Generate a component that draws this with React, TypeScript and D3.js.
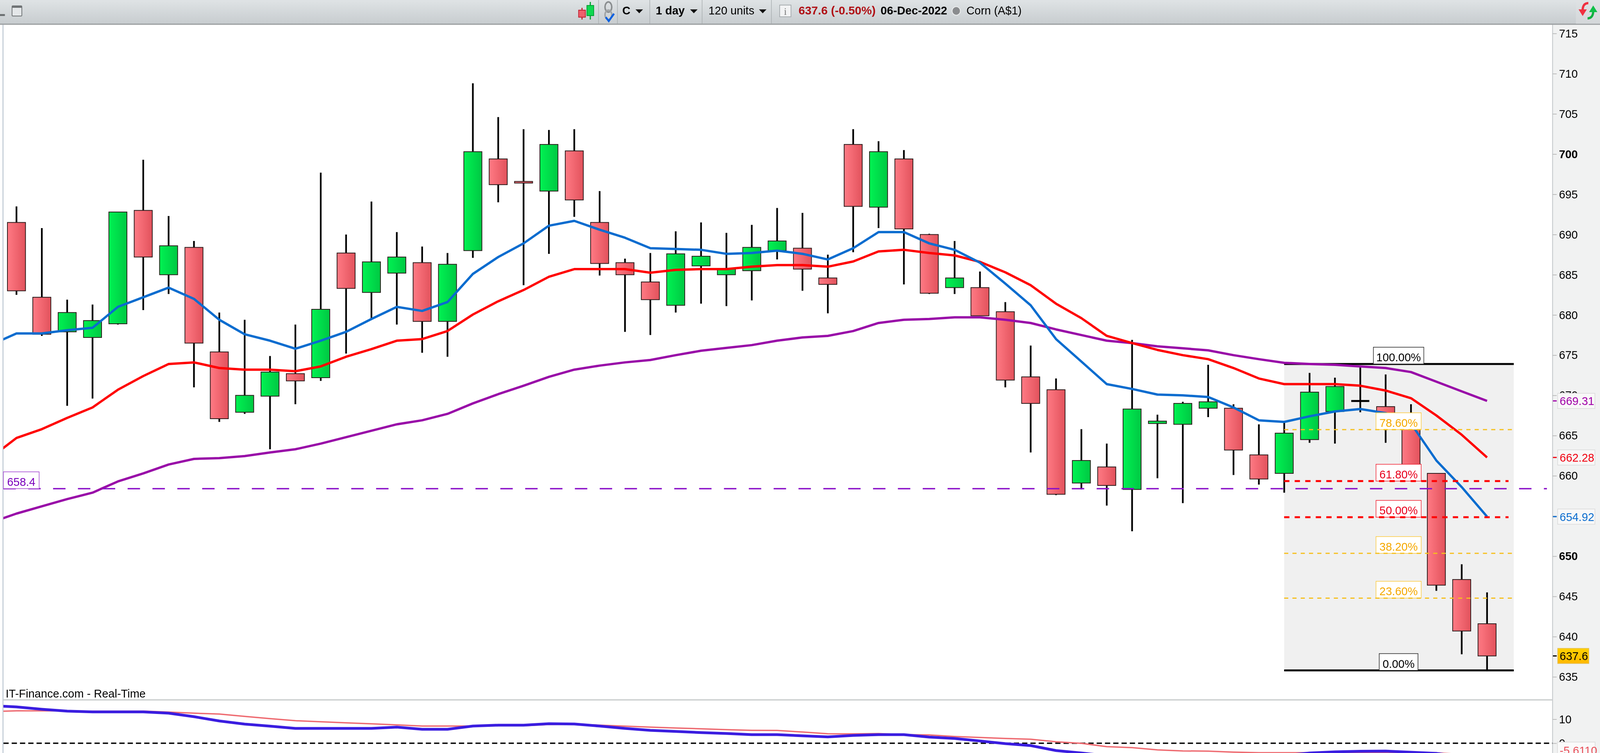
// App.tsx - Corn daily candlesticks with moving averages, fibonacci retracement and MACD strip
import { useRef, useEffect } from "react";
import * as d3 from "d3";

const WIDTH = 4250;
const HEIGHT = 1928;
const FONT = "'Liberation Sans', Arial, sans-serif";

// Candles
const OPENS = [691.5, 682.2, 677.9, 677.2, 678.9, 693.0, 685.0, 688.4, 675.4, 667.9, 669.9, 672.7, 672.2, 687.7, 682.8, 685.2, 686.5, 679.2, 688.0, 699.4, 696.6, 695.4, 700.4, 691.5, 686.5, 684.1, 681.2, 686.1, 685.0, 685.5, 688.0, 688.3, 684.6, 701.2, 693.4, 699.4, 690.0, 683.4, 683.4, 680.4, 672.3, 670.7, 659.1, 661.1, 658.3, 666.5, 666.4, 668.4, 668.4, 662.6, 660.3, 664.5, 668.0, 669.3, 668.6, 667.7, 660.3, 647.1, 641.6];
const CLOSES = [683.0, 677.6, 680.3, 679.3, 692.8, 687.2, 688.6, 676.5, 667.1, 670.0, 672.9, 671.8, 680.7, 683.3, 686.6, 687.2, 679.2, 686.3, 700.3, 696.2, 696.4, 701.2, 694.3, 686.4, 685.0, 681.9, 687.6, 687.3, 685.7, 688.4, 689.2, 685.7, 683.8, 693.5, 700.3, 690.7, 682.7, 684.6, 679.9, 671.9, 669.0, 657.7, 661.9, 658.8, 668.3, 666.8, 669.0, 669.2, 663.2, 659.6, 665.3, 670.4, 671.1, 669.3, 666.3, 659.9, 646.4, 640.7, 637.6];
const HIGHS = [693.5, 690.8, 681.9, 681.3, 692.8, 699.3, 692.3, 689.2, 680.3, 679.4, 674.9, 678.8, 697.7, 690.0, 694.1, 690.3, 688.5, 687.7, 708.8, 704.6, 703.1, 703.0, 703.1, 695.4, 687.0, 687.7, 690.4, 691.5, 690.2, 691.2, 693.3, 692.7, 687.5, 703.1, 701.6, 700.5, 690.1, 689.2, 685.4, 681.6, 676.2, 672.1, 665.8, 664.0, 676.9, 667.6, 669.2, 673.8, 668.9, 666.4, 666.6, 672.8, 672.2, 673.6, 672.6, 668.9, 660.3, 649.0, 645.5];
const LOWS = [682.5, 677.4, 668.7, 669.6, 678.8, 680.6, 682.6, 671.0, 666.7, 667.7, 663.3, 668.9, 671.8, 675.2, 679.5, 678.8, 675.3, 674.8, 687.1, 694.0, 683.7, 687.6, 692.2, 684.9, 677.9, 677.5, 680.3, 681.4, 681.1, 681.8, 686.9, 683.0, 680.2, 687.8, 690.8, 683.8, 682.6, 682.6, 679.9, 671.0, 662.9, 657.6, 658.3, 656.3, 653.1, 659.7, 656.6, 667.3, 660.1, 658.9, 657.9, 664.1, 664.0, 667.9, 664.1, 659.4, 645.7, 637.8, 635.8];

// Moving averages: first value belongs to the candle just off the left edge
const MA_BLUE = [676.3, 677.7, 677.7, 678.1, 678.4, 681.0, 682.2, 683.4, 682.0, 679.4, 677.6, 676.8, 675.8, 676.8, 677.9, 679.5, 681.0, 680.5, 681.6, 685.1, 687.2, 688.9, 691.1, 691.7, 690.6, 689.6, 688.3, 688.2, 688.1, 687.6, 687.7, 688.0, 687.6, 686.9, 688.3, 690.3, 690.3, 688.9, 688.1, 686.5, 683.9, 681.2, 677.0, 674.2, 671.4, 670.8, 670.1, 670.0, 669.8, 668.5, 666.9, 666.7, 667.4, 668.0, 668.3, 667.8, 666.5, 661.9, 658.6, 654.92];
const MA_RED = [662.3, 664.7, 665.8, 667.2, 668.5, 670.7, 672.4, 673.9, 674.1, 673.4, 673.2, 673.2, 673.0, 673.6, 674.8, 675.75, 676.8, 677.0, 678.0, 680.05, 681.7, 683.1, 684.75, 685.7, 685.7, 685.7, 685.25, 685.6, 685.7, 685.7, 686.0, 686.2, 686.2, 686.0, 686.65, 687.9, 688.1, 687.7, 687.4, 686.6, 685.3, 683.7, 681.4, 679.6, 677.4, 676.5, 675.65, 675.0, 674.5, 673.4, 672.1, 671.4, 671.4, 671.4, 671.2, 670.6, 669.65, 667.5, 665.1, 662.28];
const MA_PURPLE = [654.2, 655.3, 656.2, 657.1, 657.9, 659.3, 660.3, 661.4, 662.1, 662.2, 662.45, 662.9, 663.3, 664.0, 664.8, 665.6, 666.4, 666.9, 667.7, 669.0, 670.15, 671.2, 672.3, 673.2, 673.7, 674.1, 674.4, 675.0, 675.55, 675.9, 676.25, 676.8, 677.2, 677.4, 678.0, 679.0, 679.4, 679.5, 679.7, 679.7, 679.4, 679.0, 678.2, 677.5, 676.8, 676.5, 676.1, 675.85, 675.6, 675.0, 674.5, 674.05, 673.9, 673.8, 673.6, 673.4, 672.9, 671.7, 670.5, 669.31];

// Lower panel
const MACD = [15.7, 15.12, 14.15, 13.38, 13.06, 13.06, 13.06, 12.52, 11.06, 9.27, 7.97, 7.1, 6.18, 6.18, 6.18, 6.18, 6.72, 5.8, 5.8, 7.15, 7.53, 7.53, 8.13, 8.02, 7.15, 6.18, 5.37, 4.93, 4.44, 4.07, 3.58, 3.58, 3.09, 2.65, 3.25, 3.58, 3.58, 2.55, 2.0, 0.93, -0.16, -0.98, -3.04, -4.07, -5.2, -6.0, -6.6, -6.9, -6.9, -6.5, -5.9, -5.1, -4.07, -3.58, -3.33, -3.25, -3.74, -4.23, -5.6, -7.5];
const SIGNAL = [13.2, 13.5, 13.5, 13.5, 13.33, 13.33, 13.38, 12.96, 12.52, 12.15, 11.17, 10.24, 9.38, 8.94, 8.5, 8.08, 7.64, 7.15, 7.15, 7.15, 7.27, 7.27, 7.8, 7.92, 7.53, 7.1, 6.72, 6.34, 6.02, 5.64, 5.37, 5.32, 4.67, 3.95, 3.9, 4.02, 3.58, 3.46, 2.81, 2.39, 2.0, 1.67, 0.6, -0.05, -1.41, -1.84, -2.76, -3.2, -3.3, -3.69, -3.95, -3.95, -3.95, -3.95, -3.95, -3.95, -3.95, -4.0, -4.6, -5.61];

const PRICE_TICKS = [715, 710, 705, 700, 695, 690, 685, 680, 675, 670, 665, 660, 655, 650, 645, 640, 635];
const BOLD_TICKS = [700, 650];
const LOWER_TICKS = [10, 0];

// Fibonacci retracement
const FIB_LOW = 635.8;
const FIB_HIGH = 673.9;
const FIB_PCTS = [1, 0.786, 0.618, 0.5, 0.382, 0.236, 0];
const FIB_LABELS = ["100.00%", "78.60%", "61.80%", "50.00%", "38.20%", "23.60%", "0.00%"];
const HORIZONTAL_LEVEL = 658.4;

const C_BLUE = "#0a6ccf";
const C_RED = "#ff0000";
const C_PURPLE = "#990ca8";
const C_YELLOW = "#f6bf1c";

export default function App() {
  const svgRef = useRef<SVGSVGElement>(null);

  useEffect(() => {
    if (!svgRef.current) return;
    const svg = d3.select(svgRef.current);
    svg.selectAll("*").remove();

    const axisX = 4124;
    const toolbarH = 62;
    const sepY = 1792;

    const x = d3.scaleLinear().domain([0, 58]).range([43.75, 3950]);
    const y = d3.scaleLinear().domain([715, 635]).range([85.7, 1733]);
    const yLower = d3.scaleLinear().domain([10, 0]).range([1841.5, 1903]);

    const defs = svg.append("defs");
    const grad = (id: string, c0: string, c1: string) => {
      const g = defs.append("linearGradient").attr("id", id);
      g.append("stop").attr("offset", "0%").attr("stop-color", c0);
      g.append("stop").attr("offset", "100%").attr("stop-color", c1);
    };
    grad("bodyRed", "#ff7a84", "#e2525c");
    grad("bodyGreen", "#00f252", "#00c843");
    const tb = defs.append("linearGradient").attr("id", "toolbar").attr("x2", 0).attr("y2", 1);
    tb.append("stop").attr("offset", "0%").attr("stop-color", "#dfe3e5");
    tb.append("stop").attr("offset", "100%").attr("stop-color", "#c7cccf");
    const gold = defs.append("linearGradient").attr("id", "gold").attr("x2", 0).attr("y2", 1);
    gold.append("stop").attr("offset", "0%").attr("stop-color", "#ffd000");
    gold.append("stop").attr("offset", "100%").attr("stop-color", "#ffb800");
    defs.append("clipPath").attr("id", "mainClip").append("rect")
      .attr("x", 9).attr("y", toolbarH).attr("width", axisX - 9).attr("height", sepY - toolbarH);
    defs.append("clipPath").attr("id", "lowerClip").append("rect")
      .attr("x", 9).attr("y", sepY).attr("width", axisX - 9).attr("height", HEIGHT - sepY);

    svg.append("rect").attr("width", WIDTH).attr("height", HEIGHT).attr("fill", "#ffffff");

    // Right axis strip and left edge
    svg.append("rect").attr("x", axisX).attr("y", toolbarH).attr("width", WIDTH - axisX).attr("height", HEIGHT - toolbarH).attr("fill", "#f1f2f2");
    svg.append("line").attr("x1", axisX).attr("x2", axisX).attr("y1", toolbarH).attr("y2", HEIGHT).attr("stroke", "#bfc4c6").attr("stroke-width", 2);
    svg.append("line").attr("x1", 8).attr("x2", 8).attr("y1", toolbarH).attr("y2", HEIGHT).attr("stroke", "#c5ced8").attr("stroke-width", 3);
    svg.append("line").attr("x1", 9).attr("x2", axisX).attr("y1", sepY).attr("y2", sepY).attr("stroke", "#c6caca").attr("stroke-width", 3);

    // Fibonacci background
    const fibX0 = 3411;
    const fibX1 = 4021;
    const fibPrice = (p: number) => FIB_LOW + p * (FIB_HIGH - FIB_LOW);
    svg.append("rect").attr("x", fibX0).attr("width", fibX1 - fibX0)
      .attr("y", y(FIB_HIGH)).attr("height", y(FIB_LOW) - y(FIB_HIGH)).attr("fill", "#f0f0f0");

    // Solid fib limits sit under the averages
    [0, 1].forEach((p) => {
      svg.append("line").attr("x1", fibX0).attr("x2", fibX1).attr("y1", y(fibPrice(p))).attr("y2", y(fibPrice(p)))
        .attr("stroke", "#000").attr("stroke-width", 5);
    });

    // Candles
    const candles = svg.append("g").attr("clip-path", "url(#mainClip)");
    const bodyW = 48;
    OPENS.forEach((open, i) => {
      const close = CLOSES[i];
      candles.append("line").attr("x1", x(i)).attr("x2", x(i)).attr("y1", y(HIGHS[i])).attr("y2", y(LOWS[i]))
        .attr("stroke", "#000").attr("stroke-width", 4.5);
      const top = y(Math.max(open, close));
      const h = Math.abs(y(open) - y(close));
      if (open === close) {
        candles.append("rect").attr("x", x(i) - bodyW / 2).attr("width", bodyW).attr("y", top - 2.5).attr("height", 5).attr("fill", "#000");
        return;
      }
      candles.append("rect").attr("x", x(i) - bodyW / 2).attr("width", bodyW).attr("y", top).attr("height", h)
        .attr("fill", close > open ? "url(#bodyGreen)" : "url(#bodyRed)")
        .attr("stroke", "#2a1a1a").attr("stroke-width", 2);
    });

    // Moving averages
    const maLine = d3.line<number>().x((_, i) => x(i - 1)).y((d) => y(d)).curve(d3.curveLinear);
    const mas = svg.append("g").attr("clip-path", "url(#mainClip)");
    ([[MA_PURPLE, C_PURPLE], [MA_RED, C_RED], [MA_BLUE, C_BLUE]] as [number[], string][]).forEach(([vals, color]) => {
      mas.append("path").attr("d", maLine(vals)).attr("fill", "none").attr("stroke", color)
        .attr("stroke-width", 6).attr("stroke-linejoin", "round");
    });

    // Purple horizontal level
    svg.append("line").attr("x1", 9).attr("x2", 4109).attr("y1", y(HORIZONTAL_LEVEL)).attr("y2", y(HORIZONTAL_LEVEL))
      .attr("stroke", "#8a10c8").attr("stroke-width", 3.5).attr("stroke-dasharray", "33,33");
    svg.append("rect").attr("x", 9).attr("width", 95).attr("y", y(HORIZONTAL_LEVEL) - 43).attr("height", 43)
      .attr("fill", "#fff").attr("stroke", "#a040d0").attr("stroke-width", 1.5);
    svg.append("text").attr("x", 56.5).attr("y", y(HORIZONTAL_LEVEL) - 7).attr("text-anchor", "middle")
      .style("font", `30px ${FONT}`).style("fill", "#7a00bc").text(String(HORIZONTAL_LEVEL));

    // Fib labels and dashed retracements
    const fibStyle = (p: number) =>
      p === 1 || p === 0
        ? { box: "#222", text: "#000" }
        : p === 0.618 || p === 0.5
          ? { box: "#f02030", text: "#e8001c" }
          : { box: "#fbc93c", text: "#f5a800" };
    const labelCx = 3715;
    FIB_PCTS.forEach((p, i) => {
      const ly = y(fibPrice(p));
      const st = fibStyle(p);
      const w = p === 1 ? 134 : p === 0 ? 103 : 120;
      svg.append("rect").attr("x", labelCx - w / 2).attr("width", w).attr("y", ly - 43).attr("height", 43)
        .attr("fill", "#fff").attr("stroke", st.box).attr("stroke-width", 1.5);
      svg.append("text").attr("x", labelCx).attr("y", ly - 7).attr("text-anchor", "middle")
        .style("font", `30px ${FONT}`).style("fill", st.text).text(FIB_LABELS[i]);
    });
    FIB_PCTS.filter((p) => p !== 0 && p !== 1).forEach((p) => {
      const ly = y(fibPrice(p));
      const strong = p === 0.618 || p === 0.5;
      svg.append("line").attr("x1", fibX0).attr("x2", strong ? 4007 : fibX1).attr("y1", ly).attr("y2", ly)
        .attr("stroke", strong ? C_RED : C_YELLOW).attr("stroke-width", strong ? 5 : 3)
        .attr("stroke-dasharray", strong ? "14,14" : "11,11");
    });

    svg.append("text").attr("x", 15).attr("y", 1786).style("font", `30px ${FONT}`).style("fill", "#000")
      .attr("textLength", 372).attr("lengthAdjust", "spacingAndGlyphs").text("IT-Finance.com - Real-Time");

    // Price axis
    const priceAxis = svg.append("g").attr("transform", `translate(${axisX},0)`)
      .call(d3.axisRight(y).tickValues(PRICE_TICKS).tickSize(11).tickSizeOuter(0).tickPadding(6).tickFormat((d) => String(d)));
    priceAxis.select(".domain").remove();
    priceAxis.selectAll("line").attr("stroke", "#bbb").attr("stroke-width", 2);
    priceAxis.selectAll<SVGTextElement, number>("text")
      .style("font", (d) => `${BOLD_TICKS.includes(d) ? "bold " : ""}30px ${FONT}`)
      .style("fill", "#000").attr("text-anchor", "start");

    const lowerAxis = svg.append("g").attr("transform", `translate(${axisX},0)`)
      .call(d3.axisRight(yLower).tickValues(LOWER_TICKS).tickSize(11).tickSizeOuter(0).tickPadding(6).tickFormat((d) => String(d)));
    lowerAxis.select(".domain").remove();
    lowerAxis.selectAll("line").attr("stroke", "#bbb").attr("stroke-width", 2);
    lowerAxis.selectAll("text").style("font", `30px ${FONT}`).style("fill", "#000").attr("text-anchor", "start");

    // Last value tags on the axis
    const tag = (val: number, cy: number, label: string, color: string, fill: string, border: string, w: number, bold = false) => {
      svg.append("line").attr("x1", axisX + 1).attr("x2", axisX + 11).attr("y1", y(val)).attr("y2", y(val))
        .attr("stroke", color).attr("stroke-width", 3);
      svg.append("rect").attr("x", 4137.5).attr("width", w).attr("y", cy - 19.5).attr("height", 39)
        .attr("fill", fill).attr("stroke", border).attr("stroke-width", 1.5);
      svg.append("text").attr("x", 4143).attr("y", cy + 11)
        .style("font", `${bold ? "bold " : ""}30px ${FONT}`).style("fill", color).text(label);
    };
    tag(MA_PURPLE[MA_PURPLE.length - 1], y(669.31), "669.31", "#a000a8", "#f8f8f8", "#d8d8d8", 99);
    tag(MA_RED[MA_RED.length - 1], y(662.28), "662.28", "#f00010", "#f8f8f8", "#d8d8d8", 99);
    tag(MA_BLUE[MA_BLUE.length - 1], y(654.92), "654.92", C_BLUE, "#f8f8f8", "#d8d8d8", 99);
    tag(CLOSES[CLOSES.length - 1], y(637.6), "637.6", "#000", "url(#gold)", "#e0c060", 83);

    // Lower panel
    const lowerLine = d3.line<number>().x((_, i) => x(i - 1)).y((d) => yLower(d));
    const lower = svg.append("g").attr("clip-path", "url(#lowerClip)");
    lower.append("line").attr("x1", 9).attr("x2", axisX).attr("y1", yLower(0)).attr("y2", yLower(0))
      .attr("stroke", "#000").attr("stroke-width", 3.5).attr("stroke-dasharray", "14,8");
    lower.append("path").attr("d", lowerLine(SIGNAL)).attr("fill", "none").attr("stroke", "#ee6a70").attr("stroke-width", 3.5);
    lower.append("path").attr("d", lowerLine(MACD)).attr("fill", "none").attr("stroke", "#3a1de0").attr("stroke-width", 7).attr("stroke-linejoin", "round");

    svg.append("rect").attr("x", 4137).attr("width", 100).attr("y", 1900).attr("height", 40)
      .attr("fill", "#fafafa").attr("stroke", "#d8d8d8").attr("stroke-width", 1.5);
    svg.append("text").attr("x", 4143).attr("y", 1932).style("font", `30px ${FONT}`).style("fill", "#e8505a").text("-5.6110");

    // Toolbar
    const bar = svg.append("g");
    bar.append("rect").attr("width", WIDTH).attr("height", toolbarH).attr("fill", "url(#toolbar)");
    bar.append("line").attr("x1", 0).attr("x2", WIDTH).attr("y1", toolbarH).attr("y2", toolbarH).attr("stroke", "#999d9f").attr("stroke-width", 3);
    [1590, 1640, 1726, 1865, 2049].forEach((sx) => {
      bar.append("line").attr("x1", sx).attr("x2", sx).attr("y1", 0).attr("y2", toolbarH - 1).attr("stroke", "#a8adaf").attr("stroke-width", 1.5);
    });
    bar.append("rect").attr("x", 0).attr("y", 36).attr("width", 13).attr("height", 5).attr("fill", "#6c7072");
    bar.append("rect").attr("x", 32).attr("y", 15).attr("width", 26).attr("height", 26).attr("rx", 2)
      .attr("fill", "#e4e7e9").attr("stroke", "#6f7375").attr("stroke-width", 2);
    bar.append("rect").attr("x", 32).attr("y", 15).attr("width", 26).attr("height", 5).attr("fill", "#6f7375");

    // Candle icon
    bar.append("line").attr("x1", 1546).attr("x2", 1546).attr("y1", 20).attr("y2", 50).attr("stroke", "#c02030").attr("stroke-width", 3);
    bar.append("rect").attr("x", 1537).attr("y", 26).attr("width", 18).attr("height", 18).attr("fill", "#f0606c").attr("stroke", "#c02030").attr("stroke-width", 2);
    bar.append("line").attr("x1", 1568).attr("x2", 1568).attr("y1", 5).attr("y2", 50).attr("stroke", "#00a030").attr("stroke-width", 3);
    bar.append("rect").attr("x", 1559).attr("y", 14).attr("width", 18).attr("height", 26).attr("fill", "#10d850").attr("stroke", "#00a030").attr("stroke-width", 2);

    // Chain and check icon
    bar.append("ellipse").attr("cx", 1616).attr("cy", 18).attr("rx", 9).attr("ry", 13).attr("fill", "none").attr("stroke", "#8a8e90").attr("stroke-width", 4);
    bar.append("ellipse").attr("cx", 1616).attr("cy", 38).attr("rx", 9).attr("ry", 12).attr("fill", "none").attr("stroke", "#a0a4a6").attr("stroke-width", 4);
    bar.append("path").attr("d", "M1609,44 L1617,54 L1631,35").attr("fill", "none").attr("stroke", "#0a60e0").attr("stroke-width", 5);

    const toolText = (tx: number, s: string, bold: boolean, color = "#000", len?: number) => {
      const t = bar.append("text").attr("x", tx).attr("y", 37)
        .style("font", `${bold ? "bold " : ""}30px ${FONT}`).style("fill", color).text(s);
      if (len) t.attr("textLength", len).attr("lengthAdjust", "spacingAndGlyphs");
    };
    const caret = (cx: number) => {
      const w = d3.path();
      w.moveTo(cx - 10, 24);
      w.lineTo(cx + 10, 24);
      w.lineTo(cx, 34);
      w.closePath();
      bar.append("path").attr("d", w.toString()).attr("fill", "#111");
    };
    toolText(1653, "C", true);
    caret(1698);
    toolText(1742, "1 day", true);
    caret(1843);
    toolText(1882, "120 units", false);
    caret(2026);

    bar.append("rect").attr("x", 2071).attr("y", 13).attr("width", 30).attr("height", 30).attr("fill", "#f2f3f4").attr("stroke", "#a8adb0").attr("stroke-width", 2);
    bar.append("text").attr("x", 2086).attr("y", 38).attr("text-anchor", "middle").style("font", "26px 'Liberation Serif', serif").style("fill", "#777").text("i");

    toolText(2121, "637.6 (-0.50%)", true, "#b01015", 205);
    toolText(2339, "06-Dec-2022", true, "#000", 177);
    bar.append("circle").attr("cx", 2540).attr("cy", 28).attr("r", 11).attr("fill", "#8a8c8e").attr("stroke", "#eceeee").attr("stroke-width", 2);
    toolText(2567, "Corn (A$1)", false);

    // Refresh arrows
    bar.append("rect").attr("x", 4186).attr("y", 0).attr("width", WIDTH - 4186).attr("height", toolbarH - 1).attr("fill", "#dfe2e3").attr("opacity", 0.5);
    bar.append("path").attr("d", "M4219,8 C4208,8 4204,16 4204,26").attr("fill", "none").attr("stroke", "#f03040").attr("stroke-width", 6);
    bar.append("path").attr("d", "M4193,24 L4215,24 L4204,41 Z").attr("fill", "#f03040");
    bar.append("path").attr("d", "M4217,47 C4228,47 4232,38 4232,28").attr("fill", "none").attr("stroke", "#10b040").attr("stroke-width", 6);
    bar.append("path").attr("d", "M4221,31 L4243,31 L4232,14 Z").attr("fill", "#10c048");

    return () => {
      svg.selectAll("*").remove();
    };
  }, []);

  // The window can come out narrower than asked for, so the drawing follows the viewport
  return (
    <svg
      ref={svgRef}
      viewBox={`0 0 ${WIDTH} ${HEIGHT}`}
      preserveAspectRatio="none"
      style={{ position: "fixed", left: 0, top: 0, width: "100vw", height: "100vh", display: "block" }}
    />
  );
}
